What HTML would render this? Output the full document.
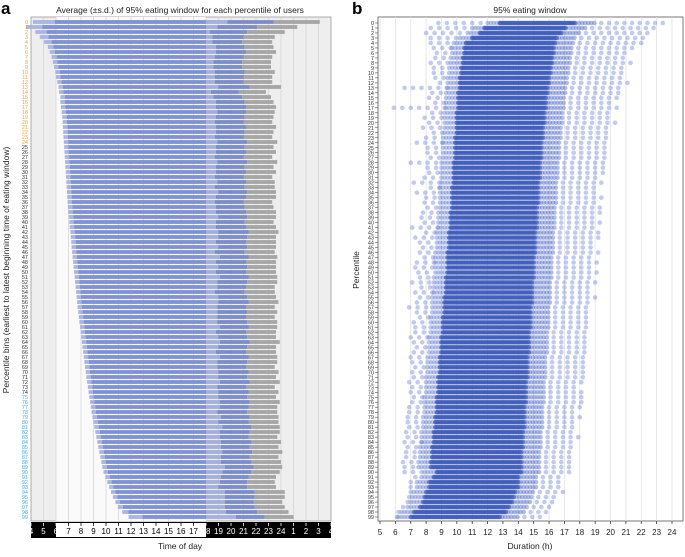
<!DOCTYPE html>
<html><head><meta charset="utf-8">
<style>
html,body{margin:0;padding:0;background:#fff;}
body{width:685px;height:552px;overflow:hidden;font-family:"Liberation Sans",sans-serif;}
svg text{font-family:"Liberation Sans",sans-serif;}
</style></head>
<body>
<svg id="chart" width="685" height="552" viewBox="0 0 685 552" xmlns="http://www.w3.org/2000/svg">
<text x="1" y="14" font-size="17" font-weight="bold">a</text>
<text x="180" y="13" font-size="8.5" text-anchor="middle" fill="#222">Average (±s.d.) of 95% eating window for each percentile of users</text>
<text x="352" y="14" font-size="17" font-weight="bold">b</text>
<text x="530" y="13" font-size="8.5" text-anchor="middle" fill="#222">95% eating window</text>
<text transform="translate(9,270) rotate(-90)" font-size="8.5" text-anchor="middle" fill="#222">Percentile bins (earliest to latest beginning time of eating window)</text>
<text transform="translate(359,270) rotate(-90)" font-size="8.5" text-anchor="middle" fill="#222">Percentile</text>
<text x="180" y="549" font-size="8.5" text-anchor="middle" fill="#222">Time of day</text>
<text x="530" y="549" font-size="8.5" text-anchor="middle" fill="#222">Duration (h)</text>
<g id="ga"></g>
<g id="gb"></g>
</svg>
<script>
// ---------- Panel a data (hours) ----------
const startH = [5.9,4.9,5.25,5.4,5.65,5.8,5.9,6.05,6.1,6.2,6.3,6.35,6.45,6.55,6.6,6.7,6.7,6.75,6.8,6.85,
6.88,6.9,6.93,6.95,6.98,7.0,7.03,7.05,7.08,7.1,7.13,7.15,7.18,7.2,7.23,7.25,7.28,7.3,7.33,7.38,
7.41,7.45,7.5,7.53,7.57,7.6,7.64,7.68,7.72,7.76,7.8,7.84,7.88,7.92,7.96,8.0,8.04,8.08,8.13,8.17,
8.22,8.27,8.32,8.37,8.42,8.47,8.52,8.57,8.62,8.67,8.72,8.78,8.84,8.9,8.96,9.02,9.08,9.14,9.2,9.27,
9.35,9.42,9.5,9.58,9.66,9.74,9.82,9.9,9.98,10.06,
10.15,10.3,10.45,10.6,10.75,10.9,11.1,11.35,11.8,12.9];
const startSd = [1.75,1.3,0.9,0.7,0.6,0.45,0.4,0.4,0.35,0.35,0.35,0.35,0.35,0.35,0.35,0.35,0.35,0.35,0.35,0.35,
0.35,0.35,0.35,0.35,0.35,0.35,0.35,0.35,0.35,0.35,0.35,0.35,0.35,0.35,0.35,0.35,0.35,0.35,0.35,0.35,
0.35,0.35,0.35,0.35,0.35,0.35,0.35,0.35,0.35,0.35,0.35,0.35,0.35,0.35,0.35,0.35,0.35,0.35,0.35,0.35,
0.35,0.35,0.35,0.35,0.35,0.35,0.35,0.35,0.35,0.35,0.35,0.35,0.35,0.35,0.35,0.35,0.35,0.35,0.35,0.35,
0.35,0.35,0.35,0.35,0.35,0.35,0.35,0.35,0.35,0.35,0.35,0.35,0.35,0.35,0.35,0.35,0.35,0.4,0.5,1.1];
const endH = [23.4,22.1,21.3,21.0,20.9,21.1,21.2,21.0,20.9,20.9,21.1,21.0,21.0,21.5,20.6,20.9,21.1,21.2,21.2,21.1,
21.0,21.2,21.1,21.0,21.3,21.1,21.2,21.0,21.3,21.1,21.2,21.0,21.2,21.1,21.3,21.2,21.0,21.1,21.2,21.3,
21.1,21.2,21.4,21.3,21.2,21.3,21.1,21.4,21.2,21.3,21.2,21.4,21.3,21.2,21.1,21.3,21.4,21.2,21.3,21.2,
21.3,21.4,21.2,21.3,21.5,21.3,21.2,21.4,21.3,21.2,21.4,21.3,21.5,21.2,21.4,21.3,21.5,21.4,21.3,21.5,
21.4,21.6,21.5,21.4,21.6,21.5,21.7,21.5,21.6,21.8,
21.6,21.4,21.3,21.3,21.9,21.9,21.8,21.9,22.1,22.7];
const endSd = [3.7,3.2,3.0,2.5,2.4,2.3,2.4,2.3,2.3,2.3,2.4,2.3,2.3,2.5,2.2,2.3,2.3,2.4,2.3,2.3,
2.3,2.4,2.3,2.3,2.4,2.3,2.4,2.3,2.4,2.3,2.4,2.3,2.3,2.4,2.3,2.4,2.3,2.3,2.4,2.3,
2.3,2.4,2.4,2.3,2.4,2.3,2.4,2.3,2.4,2.3,2.4,2.3,2.4,2.3,2.4,2.3,2.4,2.3,2.4,2.3,
2.4,2.3,2.4,2.3,2.4,2.3,2.4,2.3,2.4,2.3,2.4,2.3,2.4,2.3,2.4,2.3,2.4,2.3,2.4,2.3,
2.4,2.3,2.4,2.3,2.4,2.3,2.4,2.3,2.4,2.3,
2.3,2.2,2.2,2.3,2.4,2.4,2.3,2.4,2.5,2.3];
const timeTicks = ["4","5","6","7","8","9","10","11","12","13","14","15","16","17","18","19","20","21","22","23","24","1","2","3","4"];

// ---------- Panel b data (hours) ----------
const coreLo = [12.8,11.8,11.5,11.0,10.6,10.5,10.5,10.4,10.4,10.3,10.3,10.2,10.2,10.2,10.1,10.1,10.1,10.1,10.0,10.0,
10.0,10.0,10.0,9.9,9.9,9.9,9.9,9.9,9.8,9.8,9.8,9.8,9.8,9.7,9.7,9.7,9.7,9.7,9.6,9.6,
9.6,9.6,9.5,9.5,9.5,9.5,9.4,9.4,9.4,9.4,9.4,9.3,9.3,9.3,9.3,9.2,9.2,9.2,9.2,9.1,
9.1,9.1,9.1,9.0,9.0,9.0,9.0,8.9,8.9,8.9,8.9,8.8,8.8,8.8,8.8,8.7,8.7,8.7,8.7,8.6,
8.6,8.6,8.5,8.5,8.5,8.4,8.4,8.4,8.3,8.3,
8.7,8.5,8.2,8.2,8.0,7.9,7.8,7.6,7.2,7.0];
const coreHi = [17.8,17.2,16.8,16.5,16.4,16.3,16.3,16.2,16.2,16.1,16.1,16.0,16.0,15.9,15.9,15.8,15.8,15.8,15.7,15.7,
15.7,15.6,15.6,15.6,15.5,15.5,15.5,15.5,15.4,15.4,15.4,15.4,15.3,15.3,15.3,15.3,15.3,15.2,15.2,15.2,
15.2,15.2,15.1,15.1,15.1,15.1,15.1,15.0,15.0,15.0,15.0,15.0,14.9,14.9,14.9,14.9,14.9,14.8,14.8,14.8,
14.8,14.8,14.7,14.7,14.7,14.7,14.7,14.6,14.6,14.6,14.6,14.6,14.5,14.5,14.5,14.5,14.5,14.4,14.4,14.4,
14.4,14.4,14.3,14.3,14.3,14.3,14.2,14.2,14.2,14.2,
14.2,14.0,14.0,14.0,13.8,13.7,13.6,13.4,13.2,12.8];
const minD = [8.8,8.3,8.0,8.3,8.3,8.5,8.7,8.6,8.3,8.5,8.5,8.6,8.9,6.6,8.4,8.2,8.6,5.9,8.4,7.9,
8.2,7.8,8.5,8.0,7.4,8.1,8.1,8.3,7.0,8.1,8.2,7.9,7.2,8.3,7.4,8.0,7.9,8.1,7.8,7.7,
7.9,7.1,8.0,7.3,7.6,7.8,7.6,7.9,7.4,7.3,7.5,7.6,7.1,7.7,7.3,7.6,7.4,6.9,7.4,7.6,
7.2,7.3,7.3,7.0,7.2,7.4,7.2,7.0,7.1,7.3,7.1,7.2,6.9,7.1,7.0,7.2,7.1,6.9,6.9,6.8,
6.8,6.9,6.7,6.8,6.6,6.8,6.7,6.7,6.5,6.6,
6.6,7.3,7.0,7.0,7.0,6.9,6.8,6.5,6.2,6.1];
const maxD = [23.9,22.9,22.6,22.2,22.0,21.6,21.4,21.2,21.3,21.0,21.2,21.0,21.4,20.9,20.6,20.6,20.4,20.9,20.2,20.0,
20.5,20.1,20.1,19.9,19.6,19.9,19.8,20.0,19.6,19.5,19.5,19.4,19.9,19.4,19.2,19.6,19.3,19.6,19.3,19.1,
19.5,19.1,19.3,19.2,19.0,19.0,19.3,19.0,19.1,18.8,19.2,18.6,19.0,18.7,18.6,19.1,18.8,18.5,18.7,18.6,
18.9,18.6,18.5,18.7,18.4,18.5,18.4,18.3,18.6,18.2,18.4,18.2,18.3,18.0,18.4,18.1,18.2,18.0,17.9,18.1,
17.9,17.8,17.8,17.9,17.6,17.7,17.6,17.5,17.5,17.6,
17.3,16.8,16.9,16.6,16.9,16.3,16.5,16.4,15.8,15.4];
const durTicks = ["5","6","7","8","9","10","11","12","13","14","15","16","17","18","19","20","21","22","23","24"];

const NS = "http://www.w3.org/2000/svg";
function mk(parent, tag, attrs) {
  const e = document.createElementNS(NS, tag);
  for (const k in attrs) e.setAttribute(k, attrs[k]);
  parent.appendChild(e);
  return e;
}

// ---------- Panel a ----------
const ga = document.getElementById('ga');
const ax0 = 31, ax1 = 331, ayTop = 17, ayBot = 521;
const xA = h => ax0 + (h - 4) * (ax1 - ax0) / 24;
const yA = i => 22 + i * 5.0;

let r = mk(ga, 'rect', {x: ax0, y: ayTop, width: ax1 - ax0, height: ayBot - ayTop, fill: '#eeeeee', stroke: '#999', 'stroke-width': 0.8});


r = mk(ga, 'rect', {x: xA(6), y: ayTop, width: xA(18) - xA(6), height: ayBot - ayTop, fill: '#fafafa'});


for (let h = 5; h < 28; h++) {
  const l = mk(ga, 'line', {x1: xA(h), x2: xA(h), y1: ayTop, y2: ayBot, stroke: '#d0d0d0', 'stroke-width': 0.7});
  
  
}
const bh = 3.8;
for (let i = 0; i < startH.length; i++) {
  const y = yA(i) - bh / 2;
  const s = startH[i], ds = startSd[i], e = endH[i], de = endSd[i];
  const segs = [
    [s - ds, s, '#a9b5e2', 'start-sd-bar'],
    [s, Math.min(18, e - de), '#7f92d6', 'window-bar'],
    [18, e - de, '#a3afdc', 'window-bar-evening'],
    [e - de, e, '#7c8dcb', 'end-sd-lower-bar'],
    [e, e + de, '#a6a6a6', 'end-sd-upper-bar']
  ];
  for (const sg of segs) {
    if (sg[1] <= sg[0]) continue;
    const b = mk(ga, 'rect', {x: xA(sg[0]), y: y, width: xA(sg[1]) - xA(sg[0]), height: bh, fill: sg[2]});
    
    
  }
  const col = i < 25 ? '#f5a03a' : (i < 75 ? '#333' : '#4aa8e8');
  const t = mk(ga, 'text', {x: ax0 - 3, y: yA(i) + 2, 'font-size': 5.5, 'text-anchor': 'end', fill: col});
  t.textContent = i;
  
  
}
r = mk(ga, 'rect', {x: ax0, y: 522, width: ax1 - ax0, height: 16, fill: '#000'});


r = mk(ga, 'rect', {x: xA(6), y: 523, width: xA(18) - xA(6), height: 14, fill: '#fff'});


for (let k = 0; k < timeTicks.length; k++) {
  const h = 4 + k;
  const day = h > 6 && h < 18;
  const tk = mk(ga, 'line', {x1: xA(h), x2: xA(h), y1: 523, y2: 526, stroke: day ? '#000' : '#fff', 'stroke-width': 0.8});
  
  
  const t = mk(ga, 'text', {x: xA(h), y: 534, 'font-size': 8, 'text-anchor': 'middle', fill: day ? '#000' : '#fff'});
  t.textContent = timeTicks[k];
  
  
}

// ---------- Panel b ----------
const gb = document.getElementById('gb');
const bx0 = 378, bx1 = 683, byTop = 17, byBot = 521;
const xB = h => 380 + (h - 5) * (672 - 380) / 19;
const yB = i => 23 + i * 4.99;
r = mk(gb, 'rect', {x: bx0, y: byTop, width: bx1 - bx0, height: byBot - byTop, fill: '#fff', stroke: '#555', 'stroke-width': 0.8});


for (let k = 0; k < durTicks.length; k++) {
  const h = 5 + k;
  const l = mk(gb, 'line', {x1: xB(h), x2: xB(h), y1: byTop, y2: byBot, stroke: '#e2e2e2', 'stroke-width': 0.8});
  
  
  const tk = mk(gb, 'line', {x1: xB(h), x2: xB(h), y1: byBot, y2: byBot + 3, stroke: '#333', 'stroke-width': 0.8});
  
  
  const t = mk(gb, 'text', {x: xB(h), y: 535, 'font-size': 8, 'text-anchor': 'middle', fill: '#222'});
  t.textContent = durTicks[k];
  
  
}
for (let i = 0; i < coreLo.length; i++) {
  const y = yB(i);
  const row = mk(gb, 'g', {});
  
  
  // sparse lower tail
  for (let h = minD[i]; h < coreLo[i] - 0.8; h += 0.55) {
    const c = mk(row, 'circle', {cx: xB(h), cy: y, r: 2.3, fill: 'rgba(95,115,210,0.38)'});
    
    
  }
  // denser shoulder below core
  for (let h = Math.max(minD[i], coreLo[i] - 0.8); h < coreLo[i]; h += 0.2) {
    const c = mk(row, 'circle', {cx: xB(h), cy: y, r: 2.3, fill: 'rgba(85,110,205,0.4)'});
    
    
  }
  // dense core
  for (let h = coreLo[i]; h <= coreHi[i]; h += 0.1) {
    const c = mk(row, 'circle', {cx: xB(h), cy: y, r: 2.3, fill: 'rgba(60,90,185,0.7)'});
    
    
  }
  // shoulder above core
  for (let h = coreHi[i] + 0.15; h <= Math.min(maxD[i], coreHi[i] + 1.3); h += 0.2) {
    const c = mk(row, 'circle', {cx: xB(h), cy: y, r: 2.3, fill: 'rgba(80,105,200,0.45)'});
    
    
  }
  // sparse upper tail
  for (let h = coreHi[i] + 1.6; h <= maxD[i]; h += 0.5) {
    const c = mk(row, 'circle', {cx: xB(h), cy: y, r: 2.3, fill: 'rgba(95,115,210,0.38)'});
    
    
  }
  const tk = mk(gb, 'line', {x1: bx0 - 3, x2: bx0, y1: y, y2: y, stroke: '#333', 'stroke-width': 0.5});
  
  
  const t = mk(gb, 'text', {x: bx0 - 4, y: y + 2, 'font-size': 5.5, 'text-anchor': 'end', fill: '#333'});
  t.textContent = i;
  
  
}
</script>
</body></html>
